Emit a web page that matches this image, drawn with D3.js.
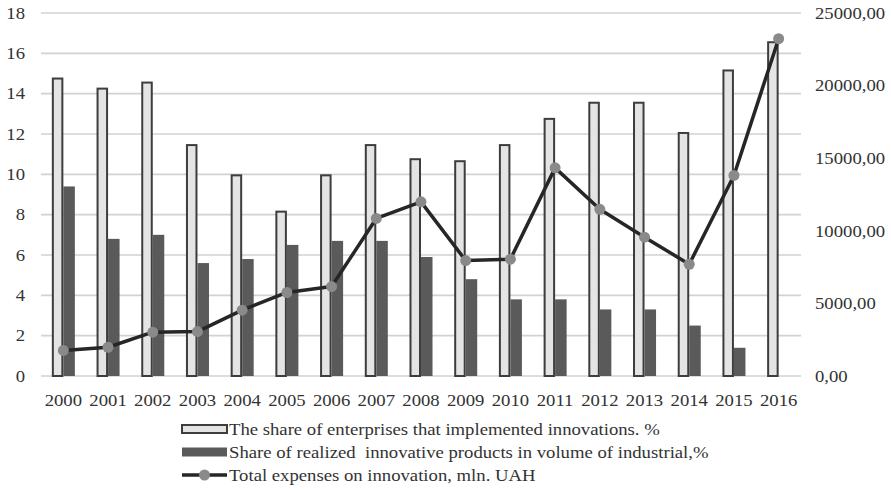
<!DOCTYPE html>
<html>
<head>
<meta charset="utf-8">
<script src="https://cdn.jsdelivr.net/npm/d3@7/dist/d3.min.js"></script>
<style>
  html, body { margin: 0; padding: 0; background: #fff; }
  svg { display: block; }
  text { font-family: "Liberation Serif", "Times New Roman", serif; fill: #333; }
</style>
</head>
<body>
<svg id="chart" width="891" height="491"></svg>
<script>
// Years on the category axis
const years = ["2000","2001","2002","2003","2004","2005","2006","2007","2008",
               "2009","2010","2011","2012","2013","2014","2015","2016"];

// Share of enterprises that implemented innovations, %
const shareEnterprises = [14.8, 14.3, 14.6, 11.5, 10.0, 8.2, 10.0, 11.5, 10.8,
                          10.7, 11.5, 12.8, 13.6, 13.6, 12.1, 15.2, 16.6];

// Share of realized innovative products in volume of industrial, %
const shareProducts = [9.4, 6.8, 7.0, 5.6, 5.8, 6.5, 6.7, 6.7, 5.9,
                       4.8, 3.8, 3.8, 3.3, 3.3, 2.5, 1.4, null];

// Total expenses on innovation, mln. UAH
const totalExpenses = [1760.1, 1979.4, 3018.3, 3059.8, 4534.6, 5751.6, 6160.0, 10850.9, 11994.2,
                       7949.9, 8045.5, 14333.9, 11480.6, 9562.6, 7695.9, 13813.7, 23229.5];

const leftTicks = [0, 2, 4, 6, 8, 10, 12, 14, 16, 18];
const rightTicks = [0, 5000, 10000, 15000, 20000, 25000];

const legendLabels = [
  "The share of enterprises that implemented innovations. %",
  "Share of realized  innovative products in volume of industrial,%",
  "Total expenses on innovation, mln. UAH"
];

const svg = d3.select("#chart");
const plot = { left: 41, right: 801, top: 13, bottom: 376 };
const sx = 1.1;        // horizontal stretch of the serif labels
const fontSize = 17;

const x = d3.scaleBand().domain(years).range([plot.left, plot.right]).padding(0);
const yL = d3.scaleLinear().domain([0, 18]).range([plot.bottom, plot.top]);
const yR = d3.scaleLinear().domain([0, 25000]).range([plot.bottom, plot.top]);

const groupW = x.bandwidth() * 0.515;
const x1 = d3.scaleBand().domain(["a", "b"])
  .range([(x.bandwidth() - groupW) / 2, (x.bandwidth() + groupW) / 2]).padding(0);

const fmtRight = v => d3.format(".2f")(v).replace(".", ",");

// gridlines
svg.append("g").selectAll("line").data(leftTicks).join("line")
  .attr("x1", plot.left).attr("x2", plot.right)
  .attr("y1", d => yL(d)).attr("y2", d => yL(d))
  .attr("stroke", "#d2d2d2").attr("stroke-width", 1.6);

// left axis labels
svg.append("g").selectAll("text").data(leftTicks).join("text")
  .attr("transform", d => `translate(25,${yL(d)}) scale(${sx},1)`)
  .attr("text-anchor", "end").attr("dominant-baseline", "central")
  .attr("font-size", fontSize).text(d => d);

// right axis labels
svg.append("g").selectAll("text").data(rightTicks).join("text")
  .attr("transform", d => `translate(815,${yR(d)}) scale(${sx},1)`)
  .attr("text-anchor", "start").attr("dominant-baseline", "central")
  .attr("font-size", fontSize).text(d => fmtRight(d));

// year labels
svg.append("g").selectAll("text").data(years).join("text")
  .attr("transform", d => `translate(${x(d) + x.bandwidth() / 2},400) scale(${sx},1)`)
  .attr("text-anchor", "middle").attr("dominant-baseline", "central")
  .attr("font-size", fontSize).text(d => d);

// bars: share of enterprises
svg.append("g").selectAll("rect").data(years).join("rect")
  .attr("x", (d) => x(d) + x1("a") + 1)
  .attr("width", x1.bandwidth() - 2)
  .attr("y", (d, i) => yL(shareEnterprises[i]) + 1)
  .attr("height", (d, i) => yL(0) - yL(shareEnterprises[i]) - 1)
  .attr("fill", "#e4e4e4").attr("stroke", "#3d3d3d").attr("stroke-width", 2);

// bars: share of realized products
svg.append("g").selectAll("rect").data(years.filter((d, i) => shareProducts[i] != null)).join("rect")
  .attr("x", d => x(d) + x1("b"))
  .attr("width", x1.bandwidth())
  .attr("y", d => yL(shareProducts[years.indexOf(d)]))
  .attr("height", d => yL(0) - yL(shareProducts[years.indexOf(d)]))
  .attr("fill", "#5a5a5a");

// line: total expenses
const line = d3.line()
  .x((d, i) => x(years[i]) + x.bandwidth() / 2)
  .y(d => yR(d));
svg.append("path").datum(totalExpenses)
  .attr("d", line).attr("fill", "none")
  .attr("stroke", "#262626").attr("stroke-width", 3.5).attr("stroke-linejoin", "round");
svg.append("g").selectAll("circle").data(totalExpenses).join("circle")
  .attr("cx", (d, i) => x(years[i]) + x.bandwidth() / 2)
  .attr("cy", d => yR(d))
  .attr("r", 5.5).attr("fill", "#8a8a8a");

// legend
const legend = svg.append("g");
const rowY = [429, 452, 475];
const symX0 = 182, symX1 = 227, textX = 229;

legend.append("rect").attr("x", symX0).attr("y", rowY[0] - 4).attr("width", symX1 - symX0).attr("height", 8)
  .attr("fill", "#e4e4e4").attr("stroke", "#3d3d3d").attr("stroke-width", 2);
legend.append("rect").attr("x", symX0).attr("y", rowY[1] - 4.5).attr("width", symX1 - symX0).attr("height", 9)
  .attr("fill", "#5a5a5a");
legend.append("line").attr("x1", symX0).attr("x2", symX1).attr("y1", rowY[2]).attr("y2", rowY[2])
  .attr("stroke", "#262626").attr("stroke-width", 3.5);
legend.append("circle").attr("cx", (symX0 + symX1) / 2).attr("cy", rowY[2]).attr("r", 5.5).attr("fill", "#8a8a8a");

legend.selectAll("text").data(legendLabels).join("text")
  .attr("transform", (d, i) => `translate(${textX},${rowY[i]}) scale(${sx},1)`)
  .attr("dominant-baseline", "central").attr("font-size", fontSize)
  .style("white-space", "pre").attr("xml:space", "preserve")
  .text(d => d);
</script>
</body>
</html>
